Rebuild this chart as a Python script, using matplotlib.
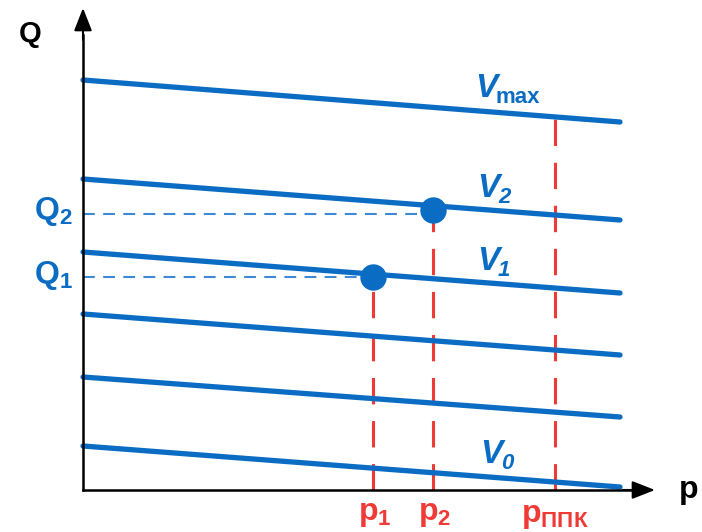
import matplotlib
matplotlib.use("Agg")
import matplotlib.pyplot as plt

plt.rcParams['font.family'] = ['Liberation Sans', 'DejaVu Sans']
plt.rcParams['mathtext.fontset'] = 'custom'
plt.rcParams['mathtext.rm'] = 'Liberation Sans:bold'
plt.rcParams['mathtext.bf'] = 'Liberation Sans:bold'
plt.rcParams['mathtext.it'] = 'Liberation Sans:bold:italic'
plt.rcParams['lines.scale_dashes'] = False

# characteristic lines Q(p) for different speeds, Q at p start / p end
p_start, p_end = 0, 537
q_left = [410, 311, 238, 176, 113, 44]
q_right = [368, 270, 197, 135, 73, 3]
line_subs = ["max", "2", "1", None, None, "0"]
name_pos = [(392, 393), (394, 293), (394, 220), None, None, (397, 27)]

# operating points
p_points = [290, 350]
q_points = [213, 276]
q_marks = [213, 280]
q_names = [r"$\mathrm{Q}_{\mathrm{1}}$", r"$\mathrm{Q}_{\mathrm{2}}$"]
p_names = [r"$\mathrm{p}_{\mathrm{1}}$", r"$\mathrm{p}_{\mathrm{2}}$"]
p_ppk = 472

blue = "#0b6cc4"
light_blue = "#3d8ad4"
red = "#f03a36"

fig = plt.figure(figsize=(7.02, 5.32), dpi=100)
ax = fig.add_axes([0, 0, 1, 1])
ax.set_xlim(-83, 619)
ax.set_ylim(-42, 490)
ax.axis("off")

for ql, qr in zip(q_left, q_right):
    ax.plot([p_start, p_end], [ql, qr], color=blue, lw=3.8, solid_capstyle="round", zorder=3)

for sub, pos in zip(line_subs, name_pos):
    if sub is None:
        continue
    t = ax.text(pos[0], pos[1], "V", color=blue, fontsize=24, fontweight="bold",
                fontstyle="italic", ha="left", va="baseline")
    ax.annotate(sub, xy=(1, 0), xycoords=t, xytext=(-1, -3), textcoords="offset points",
                color=blue, fontsize=16, fontweight="bold",
                fontstyle="normal" if sub == "max" else "italic", ha="left", va="bottom")

# vertical red dashed lines
def q_at(i, p):
    return q_left[i] + (q_right[i] - q_left[i]) * (p - p_start) / (p_end - p_start)

for p, q, pn in zip(p_points, q_marks, p_names):
    ax.plot([p, p], [0, q], color=red, lw=2.2, dashes=(19, 12), zorder=2)
    ax.text(p + 2, -24, pn, color=red, fontsize=23, ha="center", va="center")

ax.plot([p_ppk, p_ppk], [0, q_at(0, p_ppk)], color=red, lw=2.2, dashes=(19, 12), zorder=2)
ax.text(p_ppk, -26, r"$\mathrm{p}_{\mathrm{ППК}}$", color=red, fontsize=23, ha="center", va="center")

# horizontal blue dashed lines and points
for p, q, qm, qn in zip(p_points, q_points, q_marks, q_names):
    ax.plot([0, p], [q, q], color=light_blue, lw=1.5, dashes=(8.5, 6), zorder=2)
    ax.plot([p], [qm], "o", color=blue, markersize=18, zorder=4)
    ax.text(-10, q + 2, qn, color=blue, fontsize=23, ha="right", va="center")

# axes with arrows
ax.plot([0, 0], [0, 455], color="black", lw=1.8, zorder=5)
ax.plot([0, 548], [0, 0], color="black", lw=1.8, zorder=5)
ax.annotate("", xy=(0, 482), xytext=(0, 450),
            arrowprops=dict(arrowstyle="-|>,head_length=1.4,head_width=0.55", color="black", lw=1.5, shrinkA=0, shrinkB=0), zorder=5)
ax.annotate("", xy=(572, 0), xytext=(540, 0),
            arrowprops=dict(arrowstyle="-|>,head_length=1.4,head_width=0.55", color="black", lw=1.5, shrinkA=0, shrinkB=0), zorder=5)
ax.text(-53, 456, "Q", color="black", fontsize=21, fontweight="bold", ha="center", va="center")
ax.text(606, 0, "p", color="black", fontsize=23, fontweight="bold", ha="center", va="center")

fig.savefig("out.png", dpi=100)
